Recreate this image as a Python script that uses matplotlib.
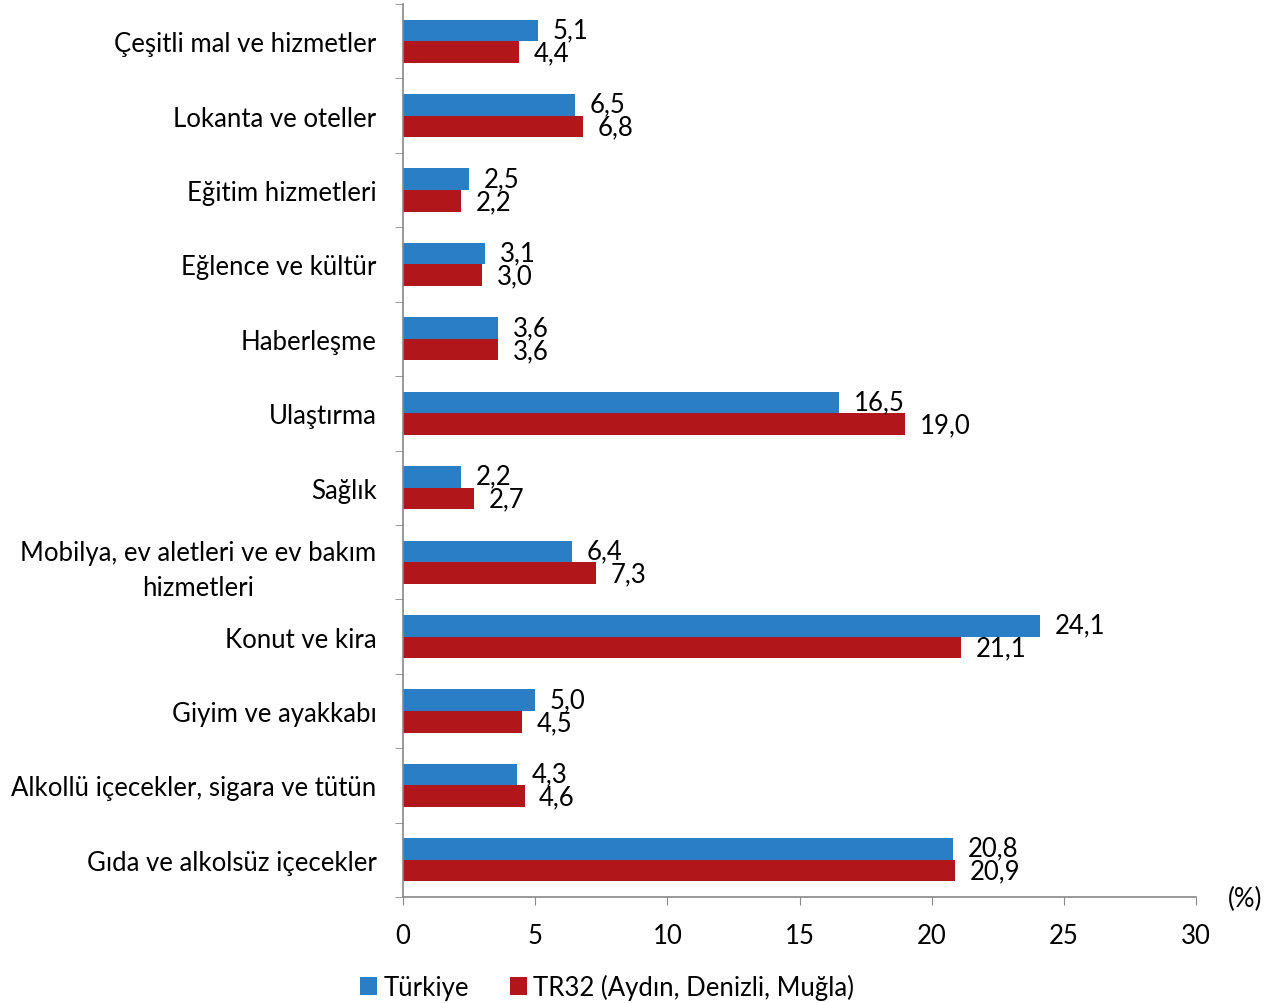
import matplotlib
matplotlib.use("Agg")
import matplotlib.pyplot as plt
import numpy as np

categories = [
    "Çeşitli mal ve hizmetler",
    "Lokanta ve oteller",
    "Eğitim hizmetleri",
    "Eğlence ve kültür",
    "Haberleşme",
    "Ulaştırma",
    "Sağlık",
    "Mobilya, ev aletleri ve ev bakım\nhizmetleri",
    "Konut ve kira",
    "Giyim ve ayakkabı",
    "Alkollü içecekler, sigara ve tütün",
    "Gıda ve alkolsüz içecekler",
]
turkiye = [5.1, 6.5, 2.5, 3.1, 3.6, 16.5, 2.2, 6.4, 24.1, 5.0, 4.3, 20.8]
tr32 = [4.4, 6.8, 2.2, 3.0, 3.6, 19.0, 2.7, 7.3, 21.1, 4.5, 4.6, 20.9]
series_names = ["Türkiye", "TR32 (Aydın, Denizli, Muğla)"]
xticks = [0, 5, 10, 15, 20, 25, 30]

plt.rcParams['font.family'] = ['Lato', 'DejaVu Sans']
FS = 18.5

fig = plt.figure(figsize=(12.66, 10.04), dpi=100)
ax = fig.add_axes([403/1266, 1-898/1004, (1196-403)/1266, (898-5)/1004])

n = len(categories)
y = np.arange(n)[::-1]
h = 0.29
blue = "#2A7EC5"
red = "#B0161A"
b1 = ax.barh(y + h/2, turkiye, height=h, color=blue, label=series_names[0])
b2 = ax.barh(y - h/2, tr32, height=h, color=red, label=series_names[1])

for yi, v in zip(y + h/2, turkiye):
    ax.annotate(f"{v:.1f}".replace(".", ","), (v, yi), xytext=(10.5, 0.5),
                textcoords="offset points", va="center", ha="left", fontsize=FS)
for yi, v in zip(y - h/2, tr32):
    ax.annotate(f"{v:.1f}".replace(".", ","), (v, yi), xytext=(10.5, -0.5),
                textcoords="offset points", va="center", ha="left", fontsize=FS)

ax.set_xlim(0, 30)
ax.set_ylim(-0.5, n - 0.5)
ax.set_xticks(xticks)
ax.set_xticklabels([str(t) for t in xticks], fontsize=FS)
ax.set_yticks(y)
ax.set_yticklabels(categories, fontsize=FS, ha="right", multialignment="center",
                   linespacing=1.5)
ax.set_yticks(np.arange(-0.5, n, 1), minor=True)
ax.tick_params(axis="y", which="major", length=0, pad=19)
ax.tick_params(axis="y", which="minor", length=6, color="#888888", direction="out")
ax.tick_params(axis="x", length=6, color="#888888", direction="out", pad=13)
for s in ["top", "right"]:
    ax.spines[s].set_visible(False)
for s in ["left", "bottom"]:
    ax.spines[s].set_color("#888888")
    ax.spines[s].set_linewidth(1.2)

fig.text(1245/1266, 1-899/1004, "(%)", fontsize=FS, ha="center", va="center")

leg = fig.legend(handles=[b1, b2], labels=series_names, loc="center",
                 bbox_to_anchor=(607/1266, 1-988/1004), ncol=2, frameon=False,
                 fontsize=FS, handlelength=0.65, handleheight=0.65, handletextpad=0.25,
                 columnspacing=1.6)

fig.savefig("out.png", dpi=100)
